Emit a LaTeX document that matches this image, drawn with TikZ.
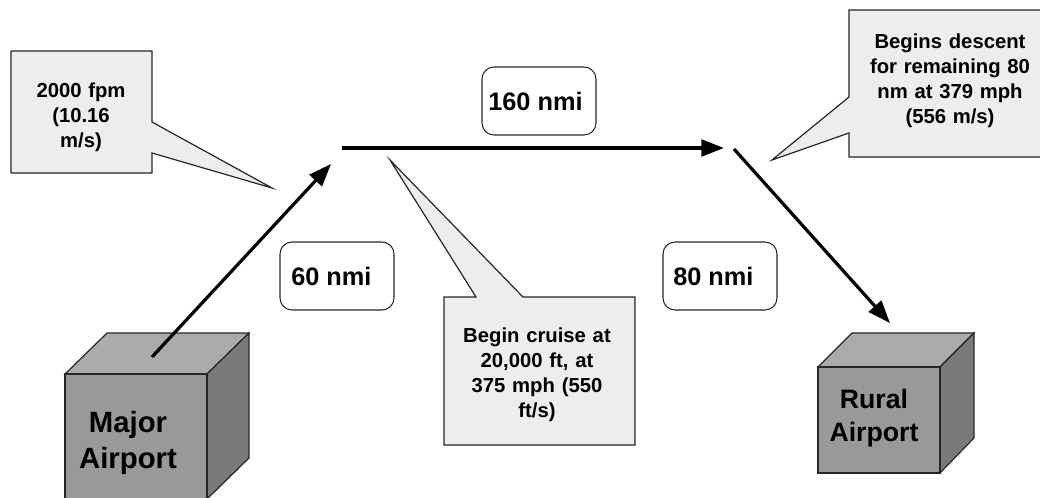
\documentclass[tikz,border=0pt]{standalone}
\usepackage{fontspec}
\setmainfont{Liberation Sans}
\usetikzlibrary{arrows.meta}
\tikzset{
  flightarrow/.style={-{Triangle[length=17pt,width=12.5pt]}, line width=2.4pt, black},
  distbox/.style={draw=black!85, rounded corners=9pt, line width=0.8pt},
  notebox/.style={draw=black!85, fill=black!7, line width=0.9pt},
  notetext/.style={font=\bfseries\fontsize{15.2}{18.8}\selectfont, align=center, text width=#1, inner sep=0pt},
  disttext/.style={font=\bfseries\fontsize{19}{22}\selectfont, anchor=west, inner sep=0pt},
  majortext/.style={font=\bfseries\fontsize{22}{26.5}\selectfont, align=center, inner sep=0pt},
  ruraltext/.style={font=\bfseries\fontsize{20}{24.5}\selectfont, align=center, inner sep=0pt},
  cubeline/.style={draw=black!85, line width=0.9pt, line join=miter}
}
\begin{document}
\begin{tikzpicture}[x=0.75pt, y=-0.75pt]
  \useasboundingbox (0,0) rectangle (1040,497);
  \clip (0,0) rectangle (1040,497);
  % koordinate
  \coordinate (majorstart) at (152,357);
  \coordinate (majorend) at (331,164);
  \coordinate (cruisestart) at (342,148);
  \coordinate (cruiseend) at (724,148);
  \coordinate (descentstart) at (734,149);
  \coordinate (descentend) at (890,323);
  % kocki
  \draw [cubeline, fill=black!33] (65,374) -- (107,333) -- (249,333) -- (207,374) -- cycle;
  \draw [cubeline, fill=black!52] (207,374) -- (249,333) -- (249,458) -- (207,499) -- cycle;
  \draw [cubeline, fill=black!40] (65,374) rectangle (207,499);
  \draw [cubeline, fill=black!33] (818,367) -- (852,333) -- (974,333) -- (940,367) -- cycle;
  \draw [cubeline, fill=black!52] (940,367) -- (974,333) -- (974,438) -- (940,473) -- cycle;
  \draw [cubeline, fill=black!40] (818,367) rectangle (940,473);
  % vektorji
  \draw [flightarrow] (majorstart) -- (majorend);
  \draw [flightarrow] (cruisestart) -- (cruiseend);
  \draw [flightarrow] (descentstart) -- (descentend);
  % oblacki
  \draw [notebox] (11,51) -- (152,51) -- (152,122) -- (272,188) -- (152,153) -- (152,173) -- (11,173) -- cycle;
  \draw [notebox] (444,297) -- (476,297) -- (390,160) -- (523,297) -- (635,297) -- (635,445) -- (444,445) -- cycle;
  \draw [notebox] (849,10) -- (1045,10) -- (1045,157) -- (849,157) -- (849,133) -- (772,160) -- (849,97) -- cycle;
  % okvirji
  \draw [distbox] (482,67) rectangle (596,135);
  \draw [distbox] (280,242) rectangle (394,310);
  \draw [distbox] (663,242) rectangle (777,310);
  % oznake
  \node (note2000) [notetext=125pt] at (81,117) {2000 fpm\\(10.16\\m/s)};
  \node (notecruise) [notetext=135pt] at (537,375) {Begin cruise at\\20,000 ft, at\\375 mph (550\\ft/s)};
  \node (notedescent) [notetext=135pt] at (950,81) {Begins descent\\for remaining 80\\nm at 379 mph\\(556 m/s)};
  \node (dist160) [disttext] at (488,101) {160 nmi};
  \node (dist60) [disttext] at (291,276) {60 nmi};
  \node (dist80) [disttext] at (673,276) {80 nmi};
  \node (majorlabel) [majortext] at (128,443) {Major\\Airport};
  \node (rurallabel) [ruraltext] at (874,418) {Rural\\Airport};
\end{tikzpicture}
\end{document}
